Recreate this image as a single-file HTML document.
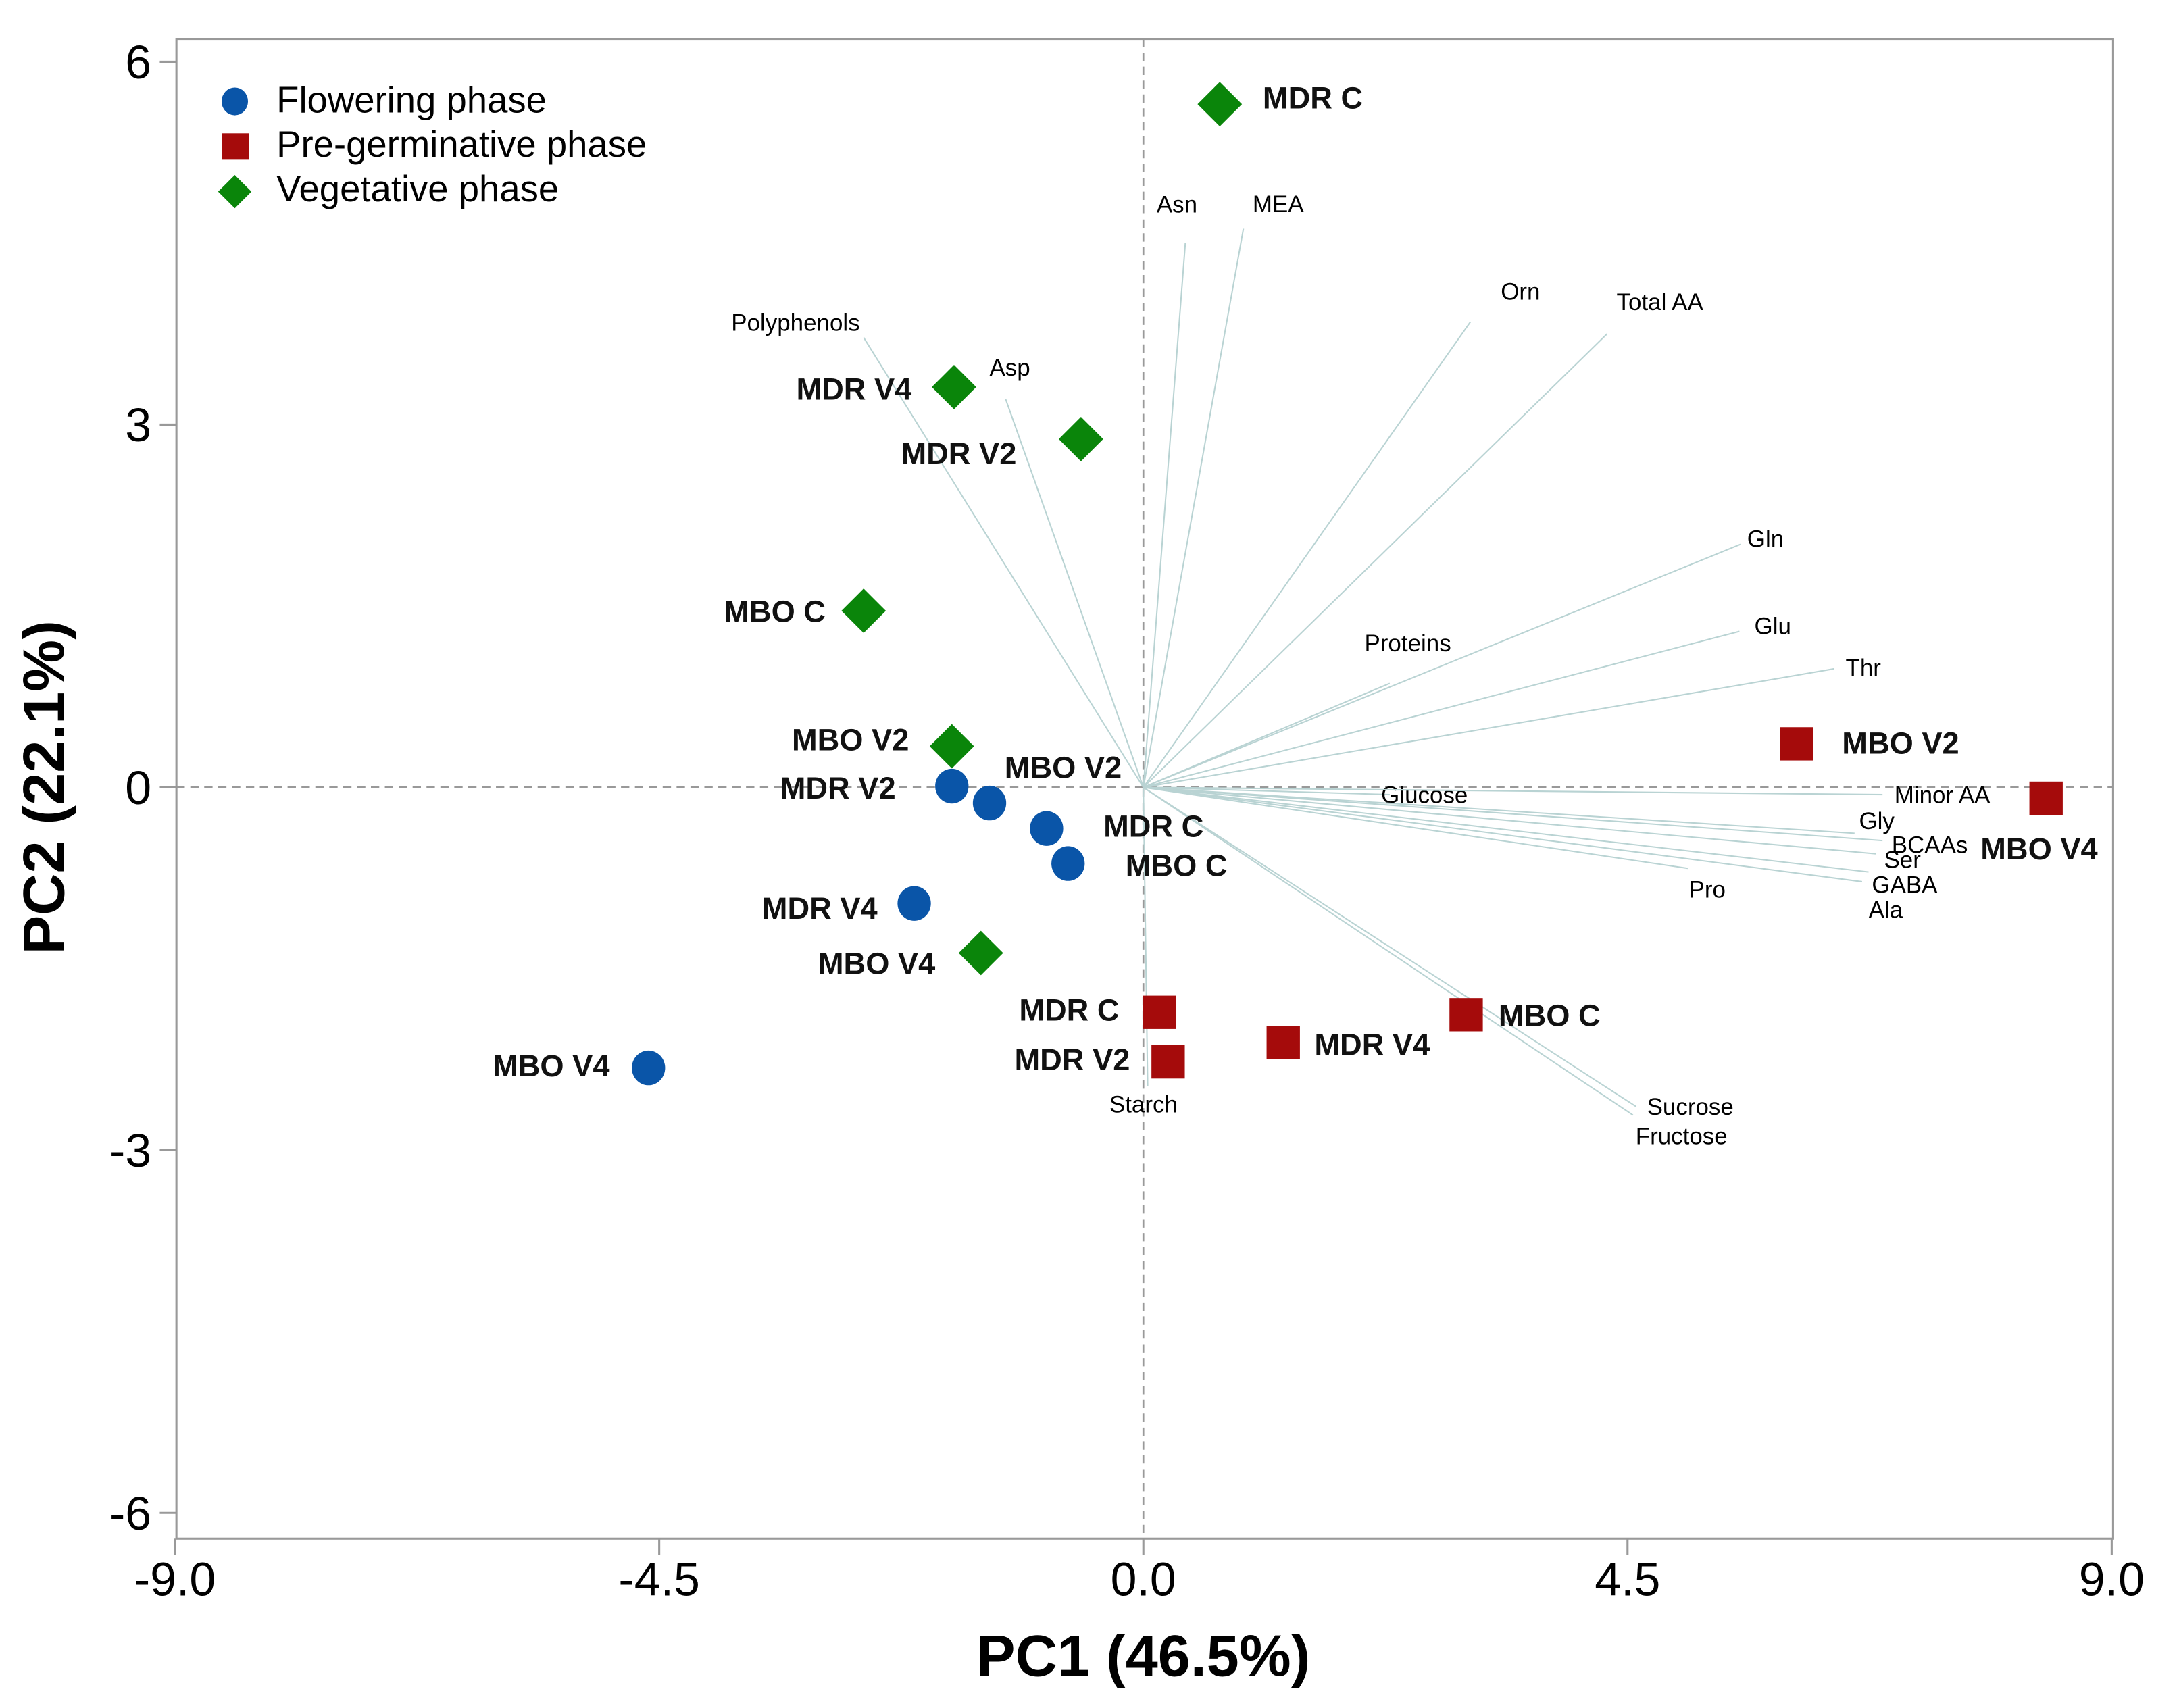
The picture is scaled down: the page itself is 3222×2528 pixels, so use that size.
<!DOCTYPE html>
<html><head><meta charset="utf-8"><style>
html,body{margin:0;padding:0;background:#fff;}
svg{display:block;font-family:"Liberation Sans",Arial,sans-serif;}
</style></head><body>
<svg id="chart" width="3222" height="2528" viewBox="0 0 1567 1230" preserveAspectRatio="none" xmlns="http://www.w3.org/2000/svg">
<rect x="0" y="0" width="1567" height="1230" fill="#fff"/>
<g id="axes"></g>
<g id="loads"></g>
<g id="pts"></g>
<g id="legend">
  <ellipse cx="169" cy="73" rx="9.5" ry="10" fill="#0a55a8"/>
  <text x="199" y="81" font-size="26.5">Flowering phase</text>
  <rect x="160" y="96" width="19" height="19" fill="#a50b0b"/>
  <text x="199" y="113" font-size="26.5">Pre-germinative phase</text>
  <polygon points="169,126 181,138 169,150 157,138" fill="#0a850a"/>
  <text x="199" y="145" font-size="26.5">Vegetative phase</text>
</g>
<text x="823" y="1207" font-size="42" font-weight="bold" text-anchor="middle">PC1 (46.5%)</text>
<text transform="translate(46,567) rotate(-90)" font-size="42" font-weight="bold" text-anchor="middle">PC2 (22.1%)</text>
<script>
const xTicks=[-9.0,-4.5,0.0,4.5,9.0];
const xTickLabels=["-9.0","-4.5","0.0","4.5","9.0"];
const yTicks=[6,3,0,-3,-6];
const yTickLabels=["6","3","0","-3","-6"];
const flowNames=["MDR V2","MBO V2","MDR C","MBO C","MDR V4","MBO V4"];
const flowX=[-1.78,-1.43,-0.90,-0.70,-2.13,-4.60];
const flowY=[0.01,-0.13,-0.34,-0.63,-0.96,-2.32];
const preNames=["MBO V2","MBO V4","MDR C","MDR V2","MDR V4","MBO C"];
const preX=[6.07,8.39,0.15,0.23,1.30,3.00];
const preY=[0.36,-0.09,-1.86,-2.27,-2.11,-1.88];
const vegNames=["MDR C","MDR V4","MDR V2","MBO C","MBO V2","MBO V4"];
const vegX=[0.71,-1.76,-0.58,-2.60,-1.78,-1.51];
const vegY=[5.65,3.31,2.88,1.46,0.34,-1.37];
const loadNames=["Asn","MEA","Orn","Total AA","Polyphenols","Asp","Gln","Proteins","Glu","Thr","Glucose","Minor AA","Gly","BCAAs","Ser","GABA","Ala","Pro","Sucrose","Fructose","Starch"];
const loadX=[0.39,0.93,3.04,4.31,-2.60,-1.28,5.55,2.29,5.54,6.42,2.29,6.87,6.61,6.87,6.81,6.74,6.68,5.06,4.58,4.55,0.04];
const loadY=[4.50,4.62,3.85,3.75,3.72,3.21,2.01,0.86,1.29,0.98,-0.06,-0.06,-0.38,-0.44,-0.55,-0.70,-0.78,-0.67,-2.64,-2.71,-2.47];
// label offsets (styling, px)
const flowOff=[[-82,8],[53,-19],[77,5],[78,8],[-68,10],[-70,5]];
const preOff=[[75,6],[-5,43],[-65,5],[-69,5],[64,8],[60,7]];
const vegOff=[[67,2],[-72,8],[-88,17],[-64,7],[-73,2],[-75,14]];
const loadOff=[[-6,-23],[25,-13],[36,-17],[38,-18],[-49,-6],[3,-18],[18,1],[13,-24],[24,1],[21,4],[25,5],[43,5],[16,-4],[34,8],[19,9],[26,14],[17,25],[14,20],[39,5],[35,20],[-3,18]];
const X0=127,X1=1521,Y0=1108,Y1=28;
const sx=v=>823+(v)*(1394/18);
const sy=v=>567-(v)*(1045/12);
const NS="http://www.w3.org/2000/svg";
function mk(parent,tag,attrs){const e=document.createElementNS(NS,tag);for(const k in attrs)e.setAttribute(k,attrs[k]);parent.appendChild(e);return e;}
const axes=document.getElementById('axes');
let fr=mk(axes,'rect',{x:X0,y:Y1,width:X1-X0,height:Y0-Y1,fill:'none',stroke:'#999','stroke-width':1.5});


let zx=mk(axes,'line',{x1:X0,x2:X1,y1:sy(0),y2:sy(0),stroke:'#999','stroke-dasharray':'6,4','stroke-width':1.3});


let zy=mk(axes,'line',{x1:sx(0),x2:sx(0),y1:Y1,y2:Y0,stroke:'#999','stroke-dasharray':'6,4','stroke-width':1.3});


xTicks.forEach((v,i)=>{
  let t=mk(axes,'line',{x1:sx(v),x2:sx(v),y1:Y0,y2:Y0+12,stroke:'#999','stroke-width':1.5});
  
  
  let l=mk(axes,'text',{x:sx(v),y:1149,'font-size':34,'text-anchor':'middle'});
  l.textContent=xTickLabels[i];
  
  
});
yTicks.forEach((v,i)=>{
  let t=mk(axes,'line',{x1:X0-12,x2:X0,y1:sy(v),y2:sy(v),stroke:'#999','stroke-width':1.5});
  
  
  let l=mk(axes,'text',{x:X0-18,y:sy(v)+12,'font-size':34,'text-anchor':'end'});
  l.textContent=yTickLabels[i];
  
  
});
const loads=document.getElementById('loads');
loadNames.forEach((n,i)=>{
  let ln=mk(loads,'line',{x1:sx(0),y1:sy(0),x2:sx(loadX[i]),y2:sy(loadY[i]),stroke:'#b9d3d3','stroke-width':1});
  
  
  let t=mk(loads,'text',{x:sx(loadX[i])+loadOff[i][0],y:sy(loadY[i])+loadOff[i][1]+1,'font-size':17,'text-anchor':'middle'});
  t.textContent=n;
  
  
});
const pts=document.getElementById('pts');
function lab(x,y,off,n){
  let t=mk(pts,'text',{x:x+off[0],y:y+off[1]+1,'font-size':22,'font-weight':'bold','text-anchor':'middle',fill:'#111'});
  t.textContent=n;
  
  
}
flowX.forEach((v,i)=>{
  const x=sx(v),y=sy(flowY[i]);
  let c=mk(pts,'ellipse',{cx:x,cy:y,rx:12,ry:12.5,fill:'#0a55a8'});
  
  
  lab(x,y,flowOff[i],flowNames[i]);
});
preX.forEach((v,i)=>{
  const x=sx(v),y=sy(preY[i]);
  let r=mk(pts,'rect',{x:x-12,y:y-12,width:24,height:24,fill:'#a50b0b'});
  
  
  lab(x,y,preOff[i],preNames[i]);
});
vegX.forEach((v,i)=>{
  const x=sx(v),y=sy(vegY[i]);
  let p=mk(pts,'polygon',{points:`${x},${y-16} ${x+16},${y} ${x},${y+16} ${x-16},${y}`,fill:'#0a850a'});
  
  
  lab(x,y,vegOff[i],vegNames[i]);
});
</script>
</svg>
</body></html>
